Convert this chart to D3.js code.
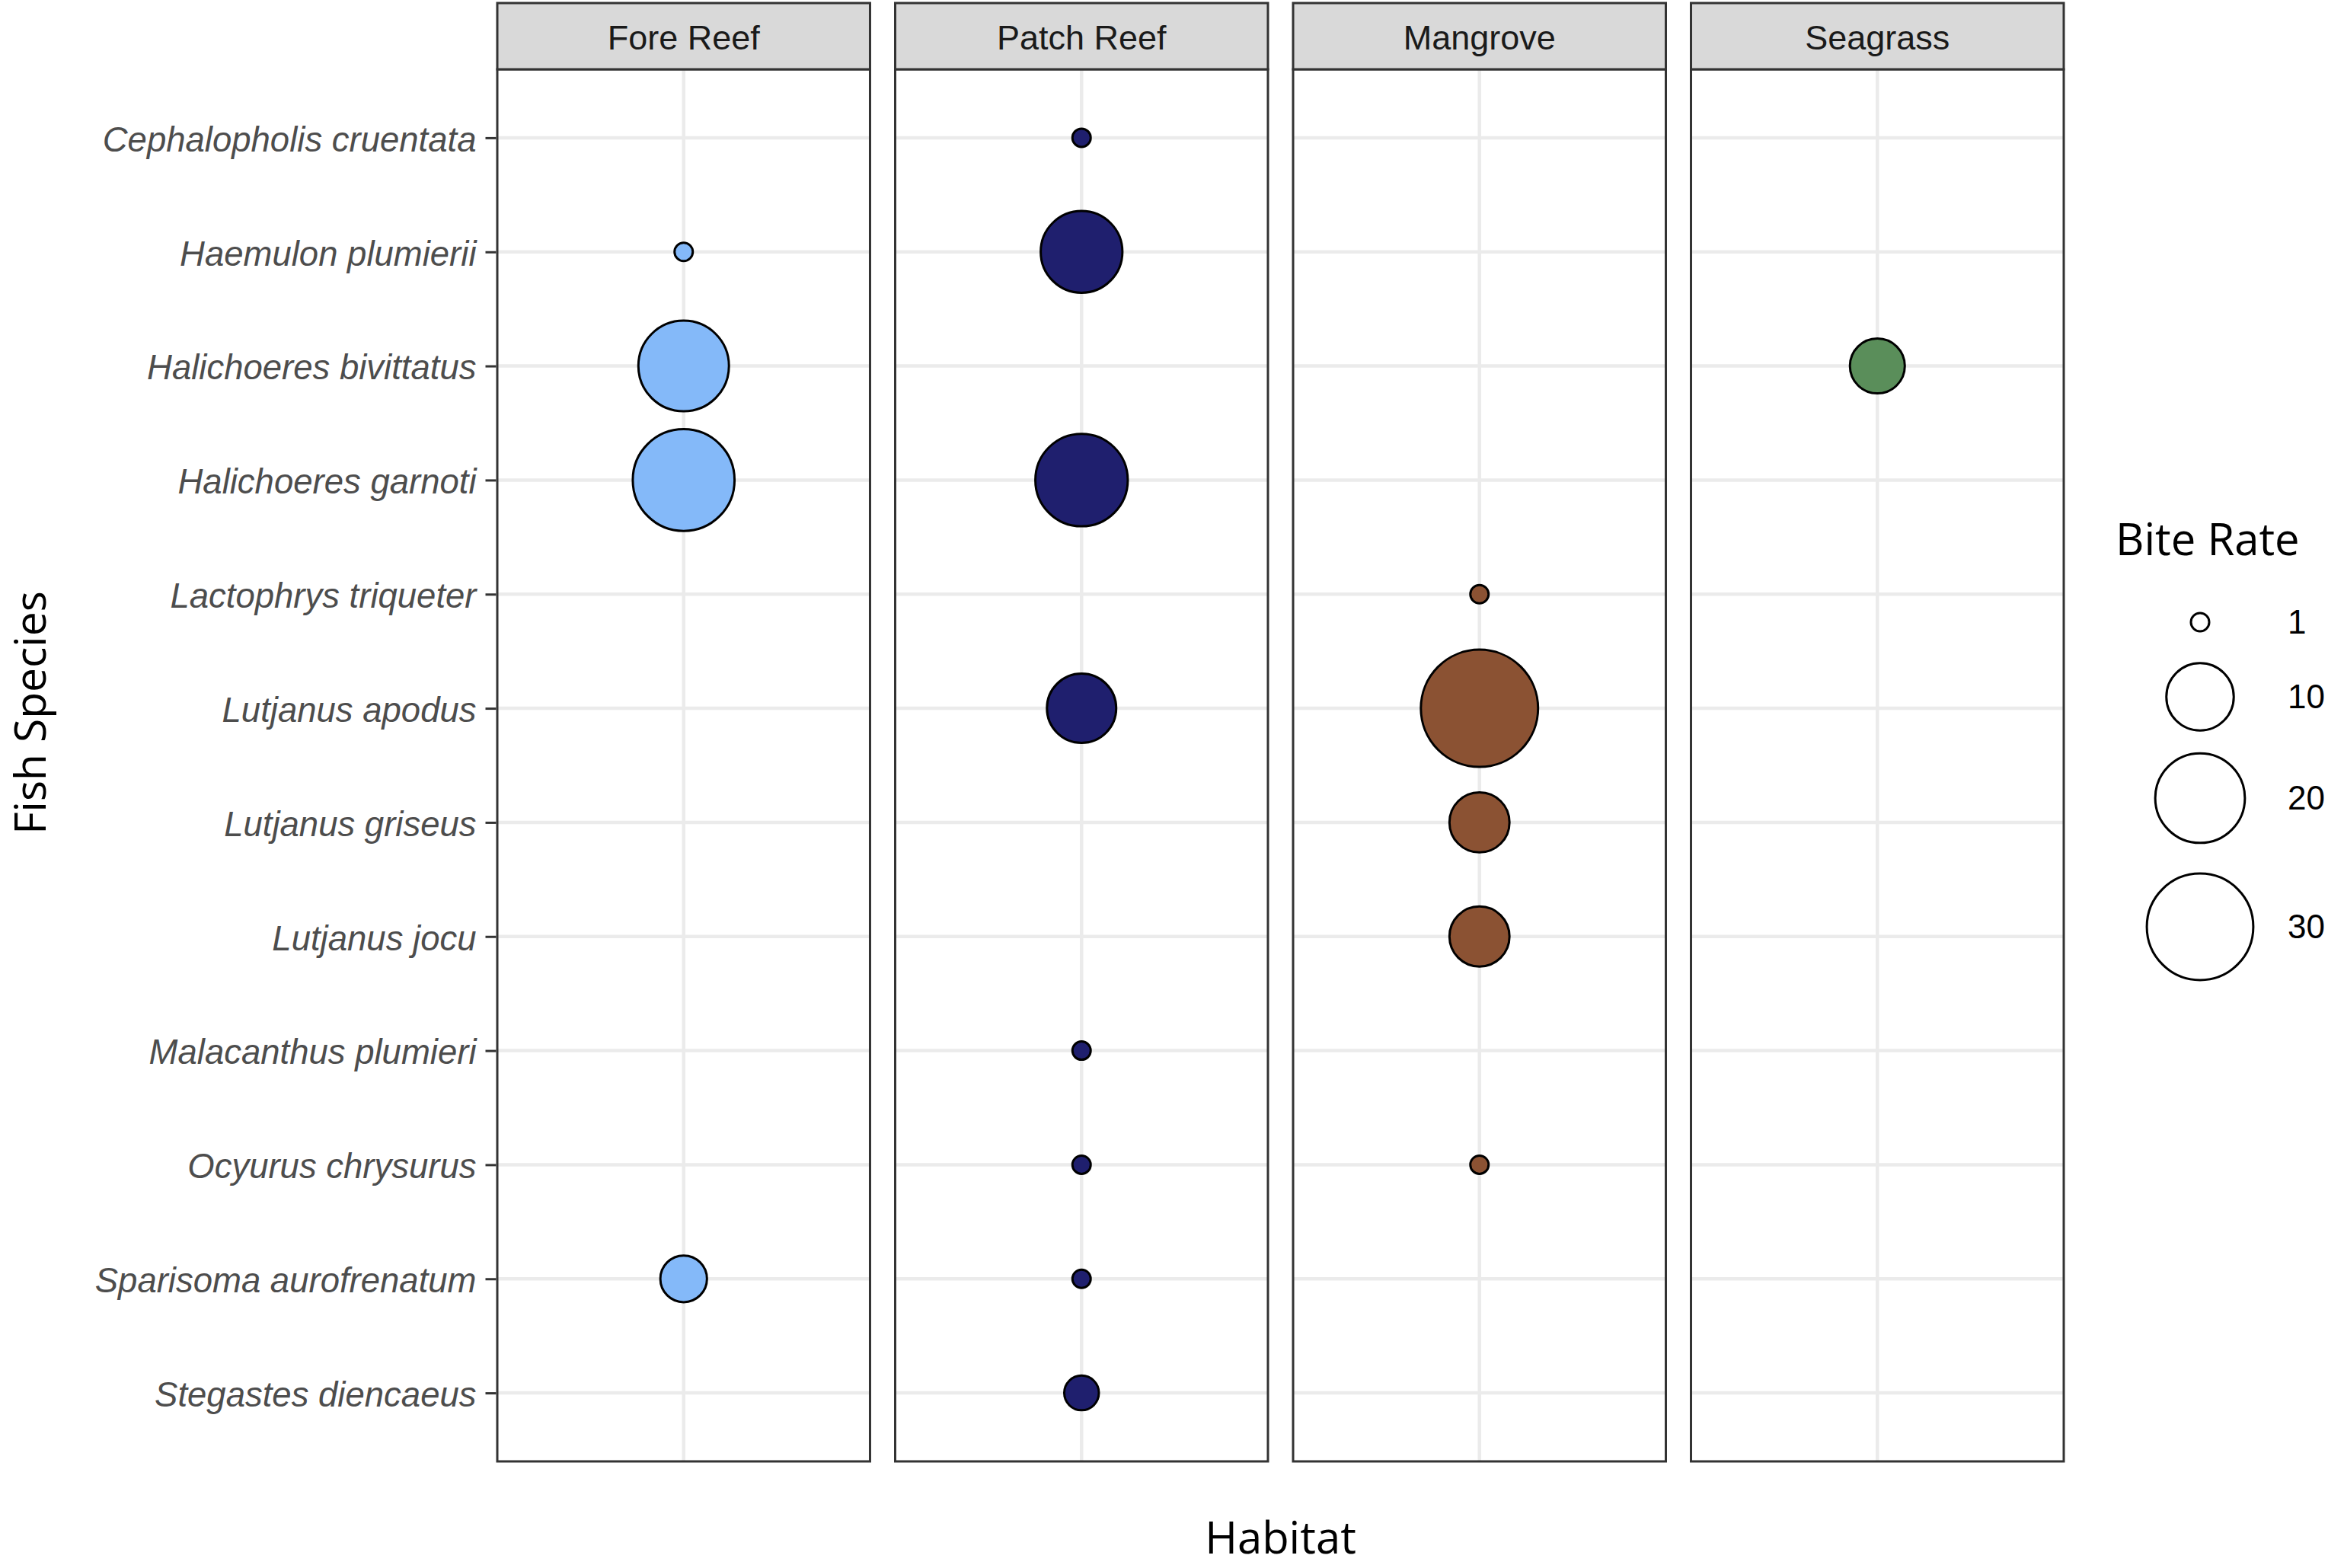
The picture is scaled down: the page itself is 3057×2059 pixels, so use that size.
<!DOCTYPE html>
<html>
<head>
<meta charset="utf-8">
<script src="https://cdn.jsdelivr.net/npm/d3@7"></script>
<style>
  html, body { margin: 0; padding: 0; background: #fff; }
  svg { display: block; }
</style>
</head>
<body>
<svg id="chart" width="3057" height="2059"></svg>
<script>
// ---------------- data ----------------
const species = [
  "Cephalopholis cruentata", "Haemulon plumierii", "Halichoeres bivittatus",
  "Halichoeres garnoti", "Lactophrys triqueter", "Lutjanus apodus",
  "Lutjanus griseus", "Lutjanus jocu", "Malacanthus plumieri",
  "Ocyurus chrysurus", "Sparisoma aurofrenatum", "Stegastes diencaeus"
];
const habitats = ["Fore Reef", "Patch Reef", "Mangrove", "Seagrass"];

const foreReefSpecies = ["Haemulon plumierii", "Halichoeres bivittatus", "Halichoeres garnoti", "Sparisoma aurofrenatum"];
const foreReefRates   = [1, 20.5, 27, 4];

const patchReefSpecies = ["Cephalopholis cruentata", "Haemulon plumierii", "Halichoeres garnoti", "Lutjanus apodus",
                          "Malacanthus plumieri", "Ocyurus chrysurus", "Sparisoma aurofrenatum", "Stegastes diencaeus"];
const patchReefRates   = [1, 16, 21.5, 10.7, 1, 1, 1, 2];

const mangroveSpecies = ["Lactophrys triqueter", "Lutjanus apodus", "Lutjanus griseus", "Lutjanus jocu", "Ocyurus chrysurus"];
const mangroveRates   = [1, 37.5, 7.5, 7.5, 1];

const seagrassSpecies = ["Halichoeres bivittatus"];
const seagrassRates   = [6];

const legendBreaks = [1, 10, 20, 30];
const habitatColors = ["#84B9F9", "#1F1F6E", "#8B5233", "#5A8E5A"];

const byHabitat = [
  [foreReefSpecies, foreReefRates],
  [patchReefSpecies, patchReefRates],
  [mangroveSpecies, mangroveRates],
  [seagrassSpecies, seagrassRates]
];
const points = [];
byHabitat.forEach(([sp, rt], i) => sp.forEach((s, j) => points.push({habitat: habitats[i], species: s, rate: rt[j]})));

// ---------------- layout ----------------
const svg = d3.select("#chart");
const panelLeft = 653, panelRight = 2710;
const stripTop = 4, panelTop = 91, panelBottom = 1919;
const stroke = 3;

const facet = d3.scaleBand().domain(habitats).range([panelLeft, panelRight]).paddingInner(0.0632).paddingOuter(0);
const y = d3.scalePoint().domain(species).range([panelTop, panelBottom]).padding(0.6);
const diam = d3.scaleLinear().domain([0, Math.sqrt(29)]).range([27, 142.8]);
const rad = v => diam(Math.sqrt(Math.max(0, v - 1))) / 2 - stroke / 2;
const color = d3.scaleOrdinal().domain(habitats).range(habitatColors);

const bw = facet.bandwidth();

habitats.forEach(h => {
  const x0 = facet(h);
  const g = svg.append("g").attr("transform", `translate(${x0},0)`);
  const xin = d3.scalePoint().domain([h]).range([0, bw]).padding(0.5);

  g.append("rect").attr("x", 0).attr("y", panelTop).attr("width", bw).attr("height", panelBottom - panelTop).attr("fill", "#fff");

  // grid
  g.selectAll("line.hg").data(species).enter().append("line")
    .attr("x1", 0).attr("x2", bw).attr("y1", d => y(d)).attr("y2", d => y(d))
    .attr("stroke", "#EBEBEB").attr("stroke-width", 4.5);
  g.append("line").attr("x1", xin(h)).attr("x2", xin(h)).attr("y1", panelTop).attr("y2", panelBottom)
    .attr("stroke", "#EBEBEB").attr("stroke-width", 4.5);

  // points
  g.selectAll("circle.pt").data(points.filter(p => p.habitat === h)).enter().append("circle")
    .attr("cx", xin(h)).attr("cy", d => y(d.species)).attr("r", d => rad(d.rate))
    .attr("fill", color(h)).attr("stroke", "#000").attr("stroke-width", stroke);

  // panel border
  g.append("rect").attr("x", 0).attr("y", panelTop).attr("width", bw).attr("height", panelBottom - panelTop)
    .attr("fill", "none").attr("stroke", "#333333").attr("stroke-width", stroke);

  // strip
  g.append("rect").attr("x", 0).attr("y", stripTop).attr("width", bw).attr("height", panelTop - stripTop)
    .attr("fill", "#D9D9D9").attr("stroke", "#333333").attr("stroke-width", stroke);
  g.append("text").attr("x", bw / 2).attr("y", 49).attr("dy", "0.35em")
    .attr("text-anchor", "middle").attr("font-family", "Liberation Sans, Arial, sans-serif")
    .attr("font-size", 45).attr("fill", "#1A1A1A").text(h);
});

// y axis
const yAxis = d3.axisLeft(y).tickSize(14).tickPadding(12);
const ya = svg.append("g").attr("transform", `translate(${panelLeft - stroke / 2},0)`).call(yAxis);
ya.select(".domain").remove();
ya.selectAll(".tick line").attr("stroke", "#333333").attr("stroke-width", 3);
ya.selectAll(".tick text").attr("font-family", "Liberation Sans, Arial, sans-serif")
  .attr("font-style", "italic").attr("font-size", 45.5).attr("fill", "#4D4D4D").attr("dy", "0.38em");

// axis titles
svg.append("text").attr("transform", "translate(60,936) rotate(-90)")
  .attr("text-anchor", "middle").attr("font-family", "Open Sans, sans-serif").attr("font-size", 57)
  .attr("fill", "#000").text("Fish Species");
svg.append("text").attr("x", (panelLeft + panelRight) / 2).attr("y", 2040)
  .attr("text-anchor", "middle").attr("font-family", "Open Sans, sans-serif").attr("font-size", 58)
  .attr("fill", "#000").text("Habitat");

// legend
const lg = svg.append("g");
lg.append("text").attr("x", 2778).attr("y", 729).attr("font-family", "Open Sans, sans-serif")
  .attr("font-size", 58).attr("fill", "#000").text("Bite Rate");
const legendYs = [817, 915, 1048, 1217];
lg.selectAll("circle").data(legendBreaks).enter().append("circle")
  .attr("cx", 2889).attr("cy", (d, i) => legendYs[i]).attr("r", d => rad(d))
  .attr("fill", "#fff").attr("stroke", "#000").attr("stroke-width", stroke);
lg.selectAll("text.lab").data(legendBreaks).enter().append("text")
  .attr("x", 3004).attr("y", (d, i) => legendYs[i]).attr("dy", "0.35em")
  .attr("font-family", "Liberation Sans, Arial, sans-serif").attr("font-size", 44).attr("fill", "#000")
  .text(d => d);
</script>
</body>
</html>
